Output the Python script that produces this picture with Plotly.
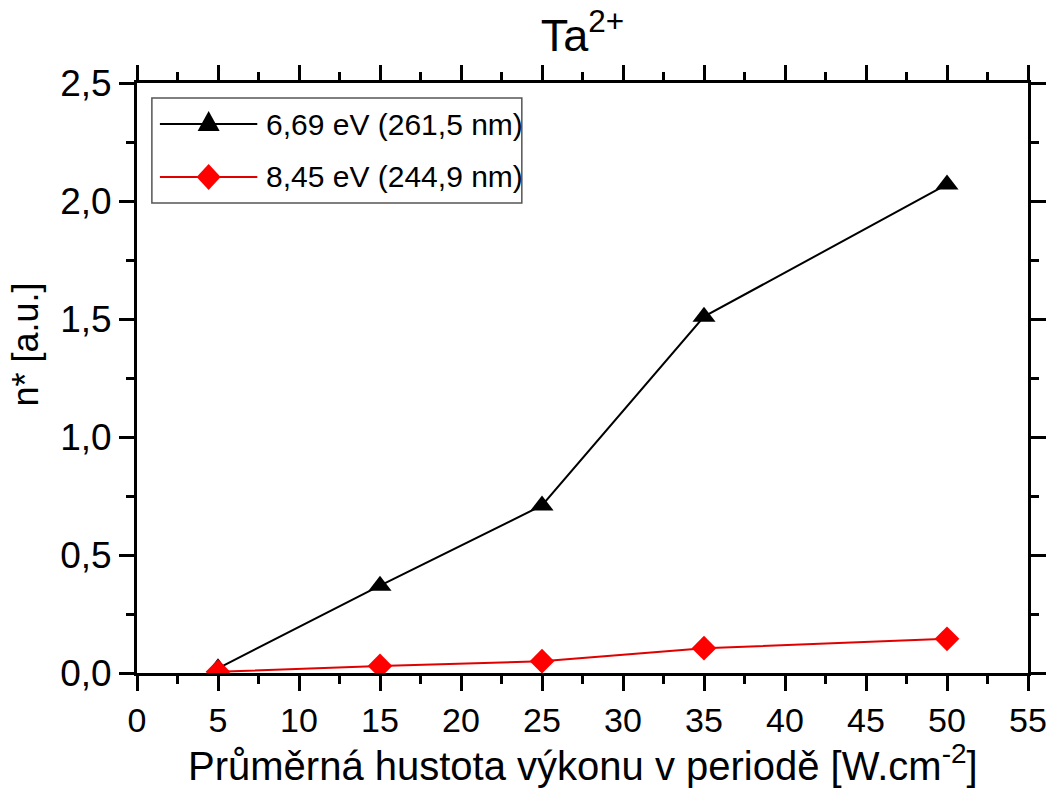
import plotly.graph_objects as go

# Power density (W/cm^2) and relative population n*
power_density = [5, 15, 25, 35, 50]
n_669 = [0.02, 0.37, 0.71, 1.51, 2.07]
n_845 = [0.005, 0.03, 0.05, 0.105, 0.145]

series_names = ["6,69 eV (261,5 nm)", "8,45 eV (244,9 nm)"]
series_colors = ["black", "#ff0000"]
line_colors = ["black", "#e00000"]

x_ticks = list(range(0, 60, 5))
y_ticks = [0.0, 0.5, 1.0, 1.5, 2.0, 2.5]

FONT = "Liberation Sans, Arial, sans-serif"

fig = go.Figure()
fig.add_trace(go.Scatter(
    x=power_density, y=n_669, mode="lines+markers", name=series_names[0],
    line=dict(color=line_colors[0], width=2),
    marker=dict(symbol="triangle-up", size=20, color=series_colors[0]),
    showlegend=False,
))
fig.add_trace(go.Scatter(
    x=power_density, y=n_845, mode="lines+markers", name=series_names[1],
    line=dict(color=line_colors[1], width=2),
    marker=dict(symbol="diamond", size=19, color=series_colors[1]),
    showlegend=False,
))

axis_common = dict(
    showline=True, linecolor="black", linewidth=3, mirror="ticks",
    ticks="outside", ticklen=15, tickwidth=3, tickcolor="black",
    showgrid=False, zeroline=False,
)

fig.update_xaxes(
    range=[0, 55], tickvals=x_ticks,
    minor=dict(dtick=2.5, ticks="outside", ticklen=8, tickwidth=3, tickcolor="black"),
    tickfont=dict(size=34, family=FONT, color="black"),
    **axis_common,
)
fig.update_yaxes(
    range=[0, 2.5], tickvals=y_ticks, tickformat=".1f",
    minor=dict(dtick=0.25, ticks="outside", ticklen=8, tickwidth=3, tickcolor="black"),
    tickfont=dict(size=37, family=FONT, color="black"),
    **axis_common,
)

# Axis titles
fig.add_annotation(
    text="Průměrná hustota výkonu v periodě [W.cm<sup>-2</sup>]",
    xref="paper", yref="paper", x=0.5, y=-0.152, xanchor="center", yanchor="middle",
    showarrow=False, font=dict(size=40, family=FONT, color="black"),
)
fig.add_annotation(
    text="n* [a.u.]", textangle=-90,
    xref="paper", yref="paper", x=-0.125, y=0.556, xanchor="center", yanchor="middle",
    showarrow=False, font=dict(size=36, family=FONT, color="black"),
)

# Legend box with sample lines, symbols and labels
fig.add_shape(type="rect", xref="paper", yref="paper",
              x0=0.0167, x1=0.4319, y0=0.7966, y1=0.9746,
              line=dict(color="#555555", width=1.5), fillcolor="white", layer="above")
legend_rows = [0.9305, 0.8407]
symbol_paths = [
    "M -11 -7 L 11 -7 L 0 13 Z",        # triangle
    "M 0 -13 L 12 0 L 0 13 L -12 0 Z",  # diamond
]
for name, color, lcolor, yrow, path in zip(series_names, series_colors, line_colors,
                                           legend_rows, symbol_paths):
    fig.add_shape(type="line", xref="paper", yref="paper",
                  x0=0.0257, x1=0.135, y0=yrow, y1=yrow,
                  line=dict(color=lcolor, width=2), layer="above")
    fig.add_shape(type="path", xref="paper", yref="paper",
                  xsizemode="pixel", ysizemode="pixel",
                  xanchor=0.0804, yanchor=yrow, path=path,
                  fillcolor=color, line=dict(color=color, width=0), layer="above")
    fig.add_annotation(text=name, xref="paper", yref="paper", x=0.1429, y=yrow,
                       xanchor="left", yanchor="middle", showarrow=False,
                       font=dict(size=30, family=FONT, color="black"))

fig.update_layout(
    width=1059, height=792,
    margin=dict(l=137, r=26, t=83, b=119),
    paper_bgcolor="white", plot_bgcolor="white",
    separators=",.",
    title=dict(text="Ta<sup>2+</sup>", x=0.5, xref="paper", xanchor="center",
               y=0.955, yref="container", yanchor="middle",
               font=dict(size=45, family=FONT, color="black")),
    showlegend=False,
)

fig.write_html("out.html")
